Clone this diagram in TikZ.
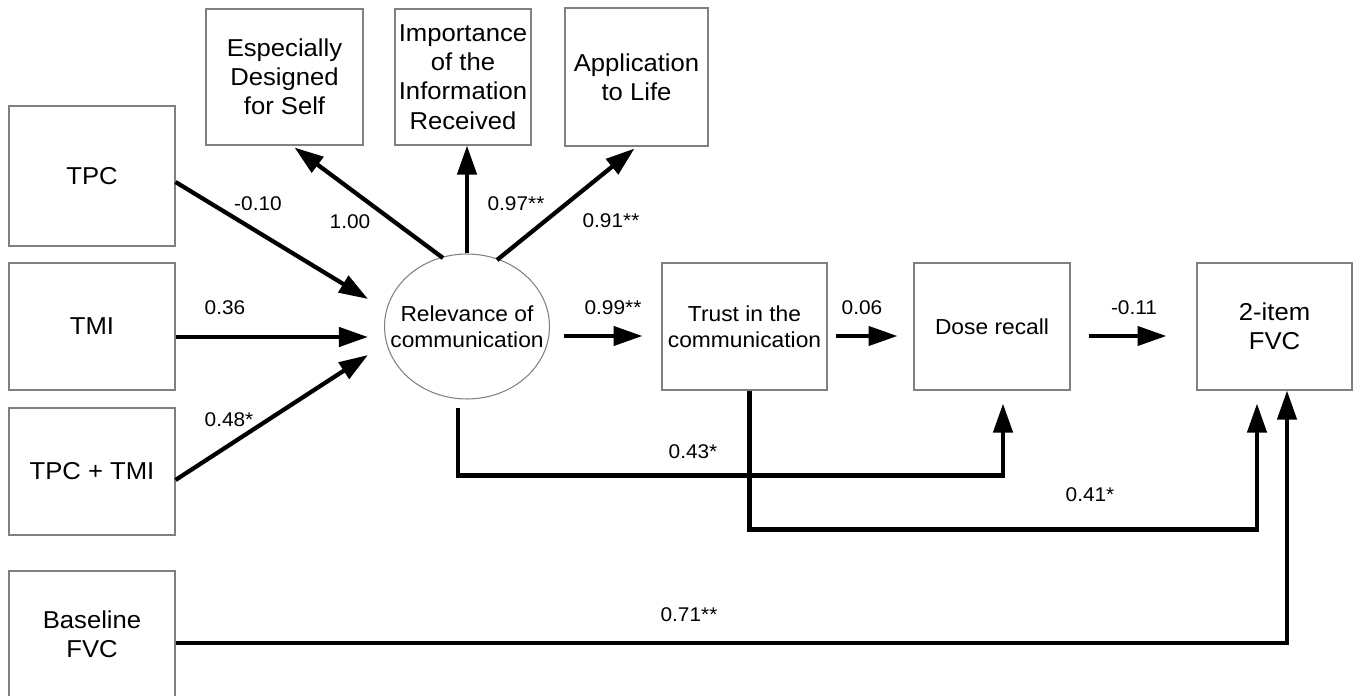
\documentclass[tikz,border=0pt]{standalone}
\usepackage{fontspec}
\setmainfont{Liberation Sans}[FakeStretch=1.05]
\usetikzlibrary{arrows.meta,calc,shapes.geometric}
\definecolor{boxgray}{RGB}{128,128,128}
\newcommand{\bigtxt}{\fontsize{13.9}{16.6}\selectfont}
\newcommand{\midtxt}{\fontsize{12.35}{14.8}\selectfont}
\newcommand{\coeftxt}{\fontsize{11.3}{12}\selectfont}

\begin{document}
\begin{tikzpicture}[x=0.02cm,y=-0.02cm,
    box/.style={draw=boxgray,line width=0.6pt,inner sep=0pt,align=center},
    link/.style={line width=0.085cm,-{Triangle[length=0.58cm,width=0.38cm]}},
    coef/.style={font=\coeftxt,inner sep=0pt}]
  \useasboundingbox (0,0) rectangle (1360,696);

  % predictors
  \node[box,font=\bigtxt,minimum width=3.32cm,minimum height=2.8cm] (tpc) at (92,176) {TPC};
  \node[box,font=\bigtxt,minimum width=3.32cm,minimum height=2.54cm] (tmi) at (92,326.5) {TMI};
  \node[box,font=\bigtxt,minimum width=3.32cm,minimum height=2.54cm] (both) at (92,471.5) {TPC + TMI};
  \node[box,font=\bigtxt,minimum width=3.32cm,minimum height=2.54cm] (base) at (92,634.5) {Baseline\\FVC};

  % indicators
  \node[box,font=\bigtxt,minimum width=3.14cm,minimum height=2.72cm] (esp) at (284.5,77) {Especially\\Designed\\for Self};
  \node[box,font=\bigtxt,minimum width=2.72cm,minimum height=2.72cm] (imp) at (463,77) {Importance\\of the\\Information\\Received};
  \node[box,font=\bigtxt,minimum width=2.86cm,minimum height=2.76cm] (app) at (636.5,77) {Application\\to Life};

  % latent and outcomes
  \node[ellipse,draw=boxgray,line width=0.6pt,minimum width=3.3cm,minimum height=2.9cm,inner sep=0pt,
        label={[name=reltext,align=center,font=\midtxt]center:{Relevance of\\communication}}] (rel) at (467,326.5) {};
  \node[box,font=\midtxt,minimum width=3.3cm,minimum height=2.54cm] (trust) at (744.5,326.5) {Trust in the\\communication};
  \node[box,font=\midtxt,minimum width=3.12cm,minimum height=2.54cm] (dose) at (992,326.5) {Dose recall};
  \node[box,font=\bigtxt,minimum width=3.1cm,minimum height=2.54cm] (fvc) at (1274.5,326.5) {2-item\\FVC};

  \draw[link] ($(tpc.east)+(0,6)$) -- ($(rel)+(-99,-27.5)$);
  \draw[link] ($(tmi.east)+(0,10.5)$) -- ($(rel.west)+(-16,10.5)$);
  \draw[link] ($(both.east)+(0,8.5)$) -- ($(rel)+(-99,28.5)$);
  \draw[link] ($(rel)+(-24,-68.5)$) -- ($(esp.south)+(10,2)$);
  \draw[link] (rel.north) -- (rel.north |- imp.south);
  \draw[link] ($(rel)+(30,-66.5)$) -- ($(app.south)+(-2,2)$);
  \draw[link] ($(rel.east)+(14,9.5)$) -- ($(trust.west)+(-19,9.5)$);
  \draw[link] ($(trust.east)+(8,9.5)$) -- ($(dose.west)+(-16,9.5)$);
  \draw[link] ($(dose.east)+(18,9.5)$) -- ($(fvc.west)+(-30,9.5)$);
  \draw[link] ($(rel.south)+(-9,8)$) |- ($(dose.south)+(11,85)$) -- ($(dose.south)+(11,13)$);
  \draw[link] ($(trust.south)+(5,0)$) |- ($(fvc.south)+(-17.5,139)$) -- ($(fvc.south)+(-17.5,13)$);
  \draw[link] ($(base.east)+(0,8.5)$) -| ($(fvc.south)+(12.5,0)$);

  % coefficients
  \node[coef] (c-tpc) at (258,204) {-0.10};
  \node[coef] (c-tmi) at (225,308) {0.36};
  \node[coef] (c-both) at (229,420) {0.48*};
  \node[coef] (c-esp) at (350,222) {1.00};
  \node[coef] (c-imp) at (516,204) {0.97**};
  \node[coef] (c-app) at (611,221) {0.91**};
  \node[coef] (c-trust) at (613,308) {0.99**};
  \node[coef] (c-dose) at (862,308) {0.06};
  \node[coef] (c-fvc) at (1134,308) {-0.11};
  \node[coef] (c-reldose) at (693,452) {0.43*};
  \node[coef] (c-trustfvc) at (1090,495) {0.41*};
  \node[coef] (c-base) at (689,615) {0.71**};
\end{tikzpicture}
\end{document}
